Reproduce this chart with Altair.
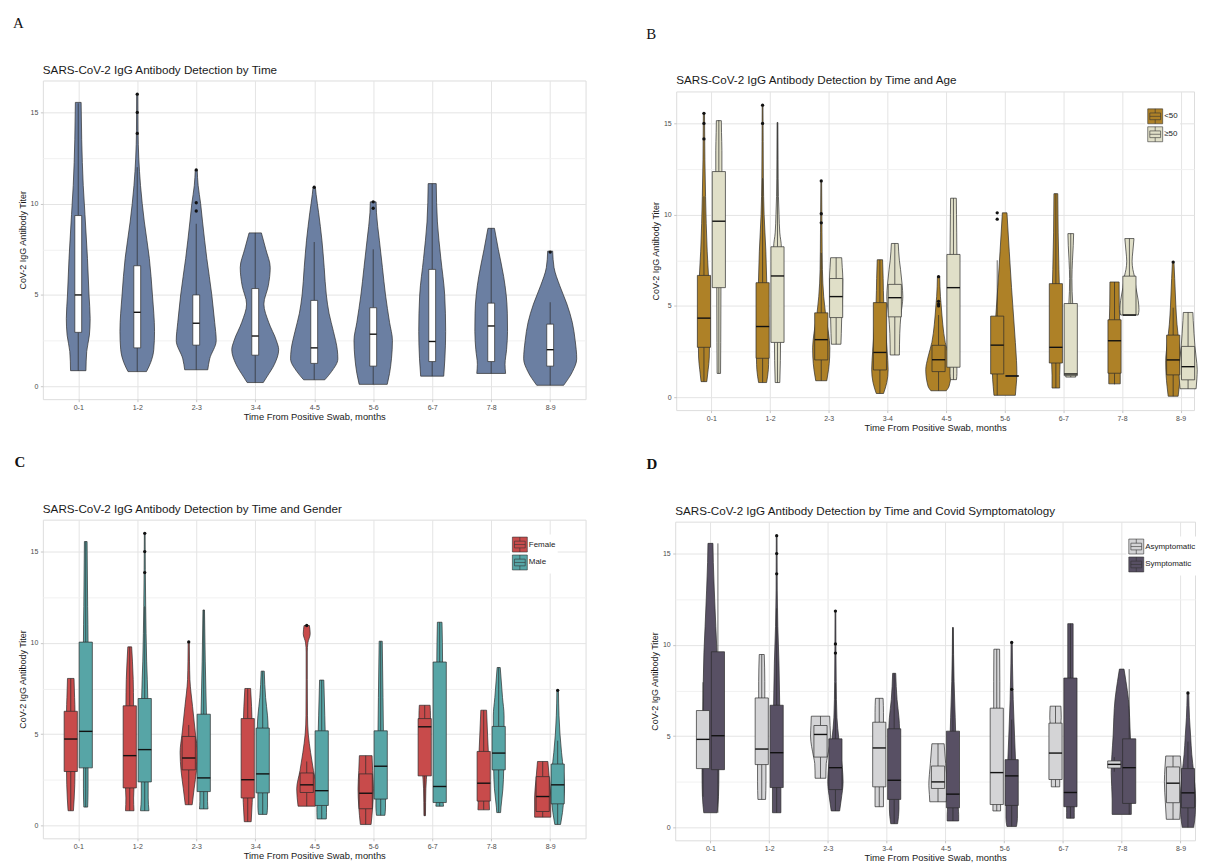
import altair as alt
import pandas as pd

CATS = ["0-1", "1-2", "2-3", "3-4", "4-5", "5-6", "6-7", "7-8", "8-9"]
X_TITLE = "Time From Positive Swab, months"
Y_TITLE = "CoV-2 IgG Antibody Titer"

# ---------------- Panel A ----------------
A_TITLE = "SARS-CoV-2 IgG Antibody Detection by Time"
A_GROUPS = ["All"]
A_COLORS = ["#6b7fa2"]
A_VIOLIN = {"All": [
    [[0.85, 40], [1.9, 44], [2.8, 58], [3.7, 62], [5.0, 56], [7.0, 48], [9.4, 35], [11.0, 26], [13.5, 18], [15.55, 15]],
    [[0.8, 48], [1.3, 70], [2.0, 86], [3.0, 90], [5.0, 79], [7.0, 63], [9.0, 37], [11.0, 17], [12.5, 8], [14.0, 4], [16.0, 3]],
    [[0.9, 60], [1.5, 70], [2.5, 104], [3.5, 96], [5.0, 81], [7.0, 55], [9.0, 33], [10.0, 23], [11.0, 10], [11.85, 5]],
    [[0.2, 42], [0.5, 60], [1.2, 100], [2.0, 122], [2.5, 110], [3.5, 70], [4.5, 45], [5.5, 68], [6.5, 78], [7.5, 55], [8.4, 32]],
    [[0.35, 55], [0.8, 90], [1.5, 123], [2.0, 120], [3.0, 100], [4.0, 77], [5.0, 63], [6.5, 52], [8.0, 40], [9.5, 23], [10.5, 10], [10.9, 6]],
    [[0.1, 73], [0.7, 85], [1.5, 95], [2.5, 100], [3.5, 85], [5.0, 64], [6.5, 48], [8.0, 32], [9.5, 17], [10.1, 15]],
    [[0.55, 60], [1.5, 66], [3.0, 70], [5.0, 65], [7.0, 45], [9.0, 27], [11.1, 21]],
    [[0.7, 75], [1.2, 72], [2.0, 80], [3.0, 85], [4.0, 84], [5.0, 78], [6.0, 65], [7.5, 37], [8.65, 17]],
    [[0.05, 70], [0.8, 116], [1.5, 138], [2.5, 130], [3.5, 115], [4.5, 87], [5.5, 50], [6.5, 20], [7.4, 13]],
]}
A_Q1 = {"All": [2.95, 2.1, 2.25, 1.7, 1.25, 1.1, 1.35, 1.35, 1.1]}
A_MED = {"All": [5.0, 4.05, 3.45, 2.75, 2.1, 2.85, 2.45, 3.3, 2.0]}
A_Q3 = {"All": [9.35, 6.6, 5.0, 5.35, 4.7, 4.3, 6.4, 4.55, 3.4]}
A_LO = {"All": [0.85, 0.8, 0.9, 0.2, 0.35, 0.1, 0.55, 0.7, 0.05]}
A_HI = {"All": [15.5, 12.0, 8.9, 8.4, 7.9, 7.5, 11.1, 8.65, 4.6]}
A_OUT = {"All": [[2, 16.0], [2, 15.0], [2, 13.85], [3, 11.85], [3, 10.05], [3, 9.6],
                 [5, 10.9], [6, 10.1], [6, 9.75], [9, 7.35]]}

# ---------------- Panel B ----------------
B_TITLE = "SARS-CoV-2 IgG Antibody Detection by Time and Age"
B_GROUPS = ["<50", "≥50"]
B_COLORS = ["#ae8127", "#e0dfc8"]
B_VIOLIN = {
    "<50": [
        [[0.85, 15], [1.5, 22], [2.2, 28], [4.0, 30], [6.6, 24], [8.0, 17], [9.5, 12], [11.0, 8.5], [13.0, 5], [15.55, 3]],
        [[0.8, 21], [1.5, 30], [2.1, 32], [4.0, 32], [6.2, 22], [8.0, 17], [10.0, 8], [12.0, 4], [14.0, 3], [16.0, 2]],
        [[0.9, 29], [1.5, 38], [2.2, 44], [2.7, 45], [3.5, 38], [4.6, 22], [5.5, 13], [7.0, 6], [9.0, 4], [11.85, 2]],
        [[0.2, 19], [0.8, 36], [1.5, 43], [2.5, 38], [4.0, 28], [5.2, 20], [6.5, 17], [7.53, 14]],
        [[0.35, 40], [0.6, 55], [1.5, 67], [2.2, 55], [3.0, 35], [4.0, 22], [5.0, 14], [5.5, 10], [6.6, 6]],
        [[0.1, 56], [0.6, 60], [1.3, 64], [2.0, 62], [3.0, 56], [4.5, 46], [6.0, 36], [8.0, 24], [10.1, 12]],
        [[0.5, 20], [1.2, 20], [1.87, 22], [6.2, 18], [7.0, 16], [9.0, 12], [11.15, 10]],
        [[0.73, 30], [1.3, 30], [4.2, 27], [5.0, 25], [6.31, 24]],
        [[0.05, 26], [0.6, 32], [1.2, 37], [2.0, 39], [3.0, 30], [4.0, 20], [5.0, 14], [6.5, 8], [7.4, 4]],
    ],
    "≥50": [
        [[1.3, 9], [3.0, 10], [6.0, 11], [12.4, 16], [13.5, 16], [14.5, 14], [15.15, 13]],
        [[0.8, 12], [2.0, 15], [3.0, 16], [8.24, 20], [9.0, 12], [10.0, 8], [11.0, 5], [13.0, 3], [15.05, 2]],
        [[2.9, 25], [3.5, 27], [4.36, 29], [5.5, 34], [6.5, 35], [7.1, 32], [7.64, 29]],
        [[2.31, 24], [3.5, 26], [4.5, 32], [5.5, 42], [6.2, 38], [7.0, 30], [7.5, 24], [8.42, 18]],
        [[0.96, 16], [1.3, 18], [1.64, 18], [7.82, 18], [9.0, 17], [10.0, 16], [10.9, 15]],
        None,
        [[1.1, 26], [1.5, 24], [3.0, 18], [5.13, 10], [5.8, 7], [6.5, 6], [7.5, 9], [8.3, 13], [8.96, 15]],
        [[4.5, 46], [4.8, 50], [5.3, 46], [6.0, 34], [6.63, 26], [7.0, 18], [7.45, 14], [8.0, 18], [8.69, 24]],
        [[0.46, 42], [1.0, 46], [1.5, 48], [2.2, 42], [2.78, 36], [3.5, 31], [4.2, 27], [4.64, 25]],
    ],
}
B_Q1 = {"<50": [2.73, 2.13, 2.04, 1.49, 1.4, 1.27, 1.87, 1.31, 1.22],
        "≥50": [6.0, 3.0, 4.36, 4.4, 1.64, 1.16, 1.18, 4.5, 0.95]}
B_MED = {"<50": [4.33, 3.87, 3.15, 2.45, 2.05, 2.85, 2.73, 3.09, 2.04],
         "≥50": [9.64, 6.64, 5.51, 5.45, 6.0, 1.16, 1.27, 4.5, 1.67]}
B_Q3 = {"<50": [6.67, 6.27, 4.62, 5.18, 2.84, 4.44, 6.22, 4.24, 3.4],
        "≥50": [12.36, 8.24, 6.5, 6.18, 7.82, 1.16, 5.13, 6.63, 2.78]}
B_LO = {"<50": [0.85, 0.8, 0.9, 0.2, 0.35, 0.1, 0.5, 0.7, 0.05],
        "≥50": [1.3, 0.8, 2.9, 2.31, 0.96, 1.16, 1.1, 4.5, 0.46]}
B_HI = {"<50": [11.0, 12.0, 7.9, 7.53, 4.5, 7.5, 11.15, 6.31, 4.9],
        "≥50": [15.18, 15.05, 7.64, 8.42, 10.9, 1.16, 8.96, 8.69, 4.64]}
B_OUT = {"<50": [[1, 15.55], [1, 15.0], [1, 14.15], [2, 16.0], [2, 15.0], [3, 11.85], [3, 10.05], [3, 9.55],
                 [5, 6.6], [5, 5.25], [5, 5.1], [5, 5.0], [6, 10.1], [6, 9.75], [9, 7.4]],
         "≥50": []}

# ---------------- Panel C ----------------
C_TITLE = "SARS-CoV-2 IgG Antibody Detection by Time and Gender"
C_GROUPS = ["Female", "Male"]
C_COLORS = ["#c84b4b", "#57a5a6"]
C_VIOLIN = {
    "Female": [
        [[0.8, 14], [1.5, 18], [2.95, 22], [6.25, 22], [7.0, 20], [8.05, 17]],
        [[0.8, 22], [1.5, 20], [2.05, 22], [6.55, 20], [8.0, 18], [9.0, 14], [9.78, 10]],
        [[1.13, 18], [2.0, 28], [3.0, 40], [4.0, 45], [5.0, 35], [6.5, 20], [8.0, 6], [9.0, 4], [10.05, 3]],
        [[0.2, 18], [1.0, 22], [1.5, 24], [5.85, 22], [6.5, 20], [7.5, 15]],
        [[1.05, 45], [2.0, 52], [3.0, 35], [4.0, 20], [5.0, 8], [6.0, 4], [8.0, 3], [9.5, 3], [10.0, 6], [10.5, 18], [10.95, 14]],
        [[0.05, 28], [1.0, 36], [2.0, 40], [3.0, 36], [3.82, 33]],
        [[0.53, 4], [2.0, 6], [3.0, 12], [5.0, 28], [6.0, 30], [6.58, 28]],
        [[0.85, 30], [1.5, 28], [4.05, 24], [5.0, 20], [6.31, 15]],
        [[0.45, 42], [1.5, 42], [2.5, 35], [3.5, 27]],
    ],
    "Male": [
        [[1.0, 10], [2.0, 12], [3.15, 12], [10.04, 12], [12.0, 10], [15.55, 7]],
        [[0.8, 22], [1.5, 18], [2.38, 18], [6.95, 16], [9.0, 10], [12.0, 5], [14.0, 3], [16.0, 2]],
        [[0.9, 22], [1.3, 20], [1.85, 20], [6.09, 14], [9.0, 8], [11.8, 4]],
        [[0.6, 22], [1.0, 25], [1.78, 25], [5.33, 28], [6.0, 25], [7.0, 15], [8.45, 8]],
        [[0.35, 24], [0.7, 25], [1.09, 25], [5.18, 18], [6.0, 16], [7.96, 11]],
        [[0.55, 22], [1.0, 25], [1.44, 25], [5.18, 14], [7.0, 12], [10.09, 8]],
        [[1.05, 20], [1.25, 18], [8.95, 15], [10.0, 14], [11.13, 12]],
        [[0.7, 10], [1.0, 12], [2.0, 22], [3.04, 26], [5.42, 28], [6.0, 28], [7.0, 20], [8.65, 8]],
        [[0.05, 15], [0.7, 25], [1.5, 32], [2.0, 35], [3.0, 30], [4.0, 20], [5.0, 12], [6.0, 7], [7.4, 4]],
    ],
}
C_Q1 = {"Female": [2.95, 2.05, 3.04, 1.5, 1.8, 0.91, 2.71, 1.33, 0.76],
        "Male": [3.15, 2.38, 1.85, 1.78, 1.09, 1.44, 1.25, 3.04, 1.18]}
C_MED = {"Female": [4.73, 3.82, 3.69, 2.5, 2.22, 1.76, 5.4, 2.31, 1.58],
         "Male": [5.15, 4.15, 2.6, 2.82, 1.9, 3.24, 2.13, 3.96, 2.22]}
C_Q3 = {"Female": [6.25, 6.55, 4.87, 5.85, 2.87, 2.82, 5.85, 4.05, 2.67],
        "Male": [10.04, 6.95, 6.09, 5.33, 5.18, 5.18, 8.95, 5.42, 3.36]}
C_LO = {"Female": [0.8, 0.8, 1.13, 0.2, 1.05, 0.05, 0.53, 0.85, 0.45],
        "Male": [1.0, 0.8, 0.9, 0.6, 0.35, 0.55, 1.05, 0.7, 0.05]}
C_HI = {"Female": [8.05, 9.78, 5.5, 7.5, 3.5, 3.82, 6.58, 6.31, 3.5],
        "Male": [15.55, 12.0, 11.8, 8.45, 7.96, 10.09, 11.13, 8.65, 4.64]}
C_OUT = {"Female": [[3, 10.05], [5, 10.95]],
         "Male": [[2, 16.0], [2, 15.0], [2, 13.85], [9, 7.4]]}

# ---------------- Panel D ----------------
D_TITLE = "SARS-CoV-2 IgG Antibody Detection by Time and Covid Symptomatology"
D_GROUPS = ["Asymptomatic", "Symptomatic"]
D_COLORS = ["#d4d4d6", "#585064"]
D_VIOLIN = {
    "Asymptomatic": [
        None,
        [[1.53, 20], [2.5, 22], [3.44, 22], [7.09, 16], [8.0, 16], [9.47, 13]],
        [[2.69, 28], [3.5, 30], [3.85, 36], [5.0, 52], [5.58, 50], [6.09, 48]],
        [[1.13, 22], [1.5, 22], [2.22, 22], [5.76, 22], [6.3, 22], [7.07, 20]],
        [[1.4, 43], [1.8, 45], [2.3, 48], [3.5, 40], [4.58, 32]],
        [[0.9, 20], [1.25, 20], [6.53, 16], [8.0, 16], [9.76, 15]],
        [[2.22, 22], [2.62, 22], [5.71, 28], [6.0, 30], [6.64, 28]],
        None,
        [[0.44, 35], [1.35, 40], [2.5, 45], [3.3, 42], [3.91, 38]],
    ],
    "Symptomatic": [
        [[0.8, 35], [1.7, 42], [3.0, 44], [6.0, 40], [9.6, 34], [11.0, 28], [13.0, 20], [14.5, 15], [15.56, 13]],
        [[0.8, 22], [1.5, 22], [2.18, 22], [6.69, 16], [9.0, 12], [11.0, 6], [13.0, 3], [15.98, 2]],
        [[0.9, 22], [1.5, 30], [2.5, 40], [3.27, 36], [4.85, 18], [6.0, 8], [8.0, 4], [11.85, 2]],
        [[0.2, 18], [1.0, 25], [1.53, 25], [5.4, 28], [6.0, 25], [7.0, 15], [8.44, 8]],
        [[0.35, 30], [0.7, 30], [1.07, 28], [5.27, 14], [6.0, 12], [8.0, 6], [10.95, 2]],
        [[0.05, 25], [0.5, 30], [1.2, 30], [3.71, 20], [5.0, 15], [7.0, 8], [9.0, 4], [10.13, 3]],
        [[0.5, 20], [0.8, 20], [1.13, 20], [8.18, 14], [9.5, 14], [11.16, 14]],
        [[0.71, 50], [1.5, 50], [3.0, 55], [5.0, 45], [7.0, 35], [8.0, 22], [8.67, 12]],
        [[0.0, 30], [0.7, 38], [1.5, 40], [3.0, 30], [4.0, 20], [5.0, 14], [6.0, 8], [7.36, 4]],
    ],
}
D_Q1 = {"Asymptomatic": [3.22, 3.44, 3.85, 2.22, 2.13, 1.25, 2.62, 3.25, 1.35],
        "Symptomatic": [3.16, 2.18, 2.07, 1.53, 1.07, 1.2, 1.13, 1.31, 1.07]}
D_MED = {"Asymptomatic": [4.82, 4.29, 5.09, 4.35, 2.49, 3.0, 4.07, 3.45, 2.42],
         "Symptomatic": [5.02, 4.09, 3.27, 2.58, 1.82, 2.82, 1.91, 3.27, 1.89]}
D_Q3 = {"Asymptomatic": [6.4, 7.09, 5.58, 5.76, 3.36, 6.53, 5.71, 3.64, 3.31],
        "Symptomatic": [9.62, 6.69, 4.85, 5.4, 5.27, 3.71, 8.18, 4.85, 3.22]}
D_LO = {"Asymptomatic": [1.67, 1.53, 2.69, 1.13, 1.4, 0.9, 2.22, 3.05, 0.44],
        "Symptomatic": [0.8, 0.8, 0.9, 0.2, 0.35, 0.05, 0.5, 0.71, 0.0]}
D_HI = {"Asymptomatic": [7.95, 9.47, 6.09, 7.07, 4.58, 9.76, 6.64, 3.85, 3.91],
        "Symptomatic": [15.56, 12.0, 7.9, 8.44, 10.95, 5.9, 11.16, 8.67, 4.7]}
D_OUT = {"Asymptomatic": [],
         "Symptomatic": [[2, 15.98], [2, 15.0], [2, 13.89], [3, 11.85], [3, 10.05], [3, 9.55],
                         [6, 10.13], [6, 7.56], [9, 7.36]]}

# ---------------- styling constants ----------------
DODGE = 0.127
BOX_HALF = 0.112
BOX_HALF_SINGLE = 0.058
WSCALE = 1 / 306.8
Y_DOMAIN = [-0.71, 16.75]
PLOT_H = 320
OUTLINE = "#2b2b2b"
FONT = "Liberation Sans"
XLABEL_EXPR = "[" + ",".join("'%s'" % c for c in CATS) + "][datum.value - 1]"
KEY_PATH = ("M-1,-1H1V1H-1Z M-0.72,-0.45H0.72V0.45H-0.72Z M-0.72,0H0.72 "
            "M0,-1V-0.45 M0,0.45V1")


def make_axes():
    xaxis = alt.Axis(values=list(range(1, 10)), labelExpr=XLABEL_EXPR, title=X_TITLE,
                     grid=True, gridColor="#e4e4e4", gridWidth=1, domain=False,
                     tickSize=2.5, tickColor="#b0b0b0", tickWidth=0.7,
                     labelFontSize=7, labelColor="#4d4d4d", labelPadding=2, labelFont=FONT,
                     titleFontSize=9.4, titleFontWeight="normal", titleColor="#1a1a1a",
                     titlePadding=2, titleFont=FONT)
    yaxis = alt.Axis(values=[0, 2.5, 5, 7.5, 10, 12.5, 15],
                     labelExpr="datum.value % 5 == 0 ? datum.label : ''", title=Y_TITLE,
                     grid=True,
                     gridColor={"condition": {"test": "datum.value % 5 == 0", "value": "#e4e4e4"},
                                "value": "#f1f1f1"},
                     gridWidth=1, domain=False, tickSize=2.5,
                     tickColor={"condition": {"test": "datum.value % 5 == 0", "value": "#b0b0b0"},
                                "value": "transparent"},
                     tickWidth=0.7, labelFontSize=7, labelColor="#4d4d4d", labelPadding=2.5,
                     labelFont=FONT, titleFontSize=9, titleFontWeight="normal",
                     titleColor="#1a1a1a", titlePadding=3, titleFont=FONT)
    return xaxis, yaxis


def panel(letter, title, groups, colors, violins, q1, med, q3, lo, hi, outs,
          width, xmax, top_y, legend_xy=None, letter_dx=-24.5, bold=False):
    single = len(groups) == 1
    fld = "grp" + letter
    vrows, brows, orows = [], [], []
    for gi, g in enumerate(groups):
        boff = 0.0 if single else (-DODGE if gi == 0 else DODGE)
        for ci in range(9):
            prof = violins[g][ci]
            if prof is not None:
                if single:
                    off = 0.0
                else:
                    other = violins[groups[1 - gi]][ci]
                    off = 0.0 if other is None else boff
                for v, w in prof:
                    vrows.append({"vid": "%d-%d" % (gi, ci), fld: g, "cat": ci + 1, "off": off,
                                  "v": v, "w": w * WSCALE})
            brows.append({fld: g, "cat": ci + 1, "off": boff, "q1": q1[g][ci], "med": med[g][ci],
                          "q3": q3[g][ci], "lo": lo[g][ci], "hi": hi[g][ci]})
        for c, v in outs[g]:
            orows.append({fld: g, "cat": c, "off": boff, "v": v})

    xs = alt.Scale(domain=[0.4, xmax], nice=False, zero=False)
    ys = alt.Scale(domain=Y_DOMAIN, nice=False, zero=False)
    xaxis, yaxis = make_axes()
    bh = BOX_HALF_SINGLE if single else BOX_HALF

    if single:
        vfill = alt.value(colors[0])
        bfill = alt.value("white")
    else:
        leg = alt.Legend(orient="none", legendX=legend_xy[0], legendY=legend_xy[1], title=None,
                         direction="vertical", symbolType=KEY_PATH, symbolSize=225,
                         symbolStrokeColor="#333333", symbolStrokeWidth=0.6, symbolOpacity=1,
                         labelFontSize=8, labelFont=FONT, labelColor="#222222", labelOffset=1,
                         rowPadding=0, padding=2, fillColor="white")
        cscale = alt.Scale(domain=groups, range=colors)
        vfill = alt.Fill(fld + ":N", scale=cscale, legend=leg)
        bfill = alt.Fill(fld + ":N", scale=cscale, legend=leg)

    violin = alt.Chart(pd.DataFrame(vrows)).transform_calculate(
        x_lo="datum.cat + datum.off - datum.w", x_hi="datum.cat + datum.off + datum.w"
    ).mark_area(orient="horizontal", stroke=OUTLINE, strokeWidth=0.7, interpolate="monotone",
                opacity=1).encode(
        y=alt.Y("v:Q", scale=ys, axis=yaxis),
        x=alt.X("x_lo:Q", scale=xs, axis=xaxis),
        x2="x_hi:Q",
        fill=vfill,
        detail="vid:N",
    )

    base = alt.Chart(pd.DataFrame(brows)).transform_calculate(
        xc="datum.cat + datum.off",
        bx_lo="datum.cat + datum.off - %f" % bh,
        bx_hi="datum.cat + datum.off + %f" % bh,
    )
    wlo = base.mark_rule(color=OUTLINE, strokeWidth=0.7).encode(
        x=alt.X("xc:Q", scale=xs, axis=xaxis), y=alt.Y("lo:Q", scale=ys, axis=yaxis), y2="q1:Q")
    whi = base.mark_rule(color=OUTLINE, strokeWidth=0.7).encode(
        x=alt.X("xc:Q", scale=xs, axis=xaxis), y=alt.Y("q3:Q", scale=ys, axis=yaxis), y2="hi:Q")
    box = base.mark_rect(stroke=OUTLINE, strokeWidth=0.7, opacity=1).encode(
        x=alt.X("bx_lo:Q", scale=xs, axis=xaxis), x2="bx_hi:Q",
        y=alt.Y("q1:Q", scale=ys, axis=yaxis), y2="q3:Q", fill=bfill)
    medl = base.mark_rule(color="#111111", strokeWidth=1.4).encode(
        x=alt.X("bx_lo:Q", scale=xs, axis=xaxis), x2="bx_hi:Q",
        y=alt.Y("med:Q", scale=ys, axis=yaxis))
    pts = alt.Chart(pd.DataFrame(orows)).transform_calculate(
        xc="datum.cat + datum.off"
    ).mark_circle(size=11, color="#111111", opacity=1).encode(
        x=alt.X("xc:Q", scale=xs, axis=xaxis), y=alt.Y("v:Q", scale=ys, axis=yaxis))

    let = alt.Chart(pd.DataFrame({"t": [letter]})).mark_text(
        align="center", baseline="middle", font="Liberation Serif", fontSize=15,
        fontWeight="bold" if bold else "normal", color="#111111"
    ).encode(x=alt.value(letter_dx), y=alt.value(-58), text="t:N")
    ttl = alt.Chart(pd.DataFrame({"t": [title]})).mark_text(
        align="left", baseline="middle", font=FONT, fontSize=11.7, color="#1a1a1a"
    ).encode(x=alt.value(0), y=alt.value(-11), text="t:N")
    # tiny white rule fixing the top edge of this panel's layout bounds
    top = alt.Chart(pd.DataFrame({"t": [0]})).mark_rule(color="white", strokeWidth=1).encode(
        x=alt.value(0), x2=alt.value(2), y=alt.value(top_y))

    return alt.layer(violin, wlo, whi, box, medl, pts, let, ttl, top).properties(
        width=width, height=PLOT_H)


def spacer():
    return alt.Chart(pd.DataFrame({"t": [0]})).mark_rule(strokeWidth=0, opacity=0).encode(
        x=alt.value(0), x2=alt.value(1), y=alt.value(0)
    ).properties(width=1, height=1, view=alt.ViewBackground(stroke="transparent"))


pA = panel("A", A_TITLE, A_GROUPS, A_COLORS, A_VIOLIN, A_Q1, A_MED, A_Q3, A_LO, A_HI, A_OUT,
           width=545, xmax=9.6, top_y=-66.5, letter_dx=-24.5)
pB = panel("B", B_TITLE, B_GROUPS, B_COLORS, B_VIOLIN, B_Q1, B_MED, B_Q3, B_LO, B_HI, B_OUT,
           width=520, xmax=0.4 + 520 / 58.9, top_y=-77.8, legend_xy=(471, 15), letter_dx=-25)
pC = panel("C", C_TITLE, C_GROUPS, C_COLORS, C_VIOLIN, C_Q1, C_MED, C_Q3, C_LO, C_HI, C_OUT,
           width=545, xmax=9.6, top_y=-96.2, legend_xy=(469, 15), letter_dx=-23, bold=True)
pD = panel("D", D_TITLE, D_GROUPS, D_COLORS, D_VIOLIN, D_Q1, D_MED, D_Q3, D_LO, D_HI, D_OUT,
           width=522, xmax=0.4 + 522 / 59.0, top_y=-87.2, legend_xy=(453, 15), letter_dx=-23.5,
           bold=True)

chart = alt.concat(
    spacer(), spacer(), pA, pB, pC, pD,
    columns=2, align="none", bounds="full", spacing={"row": 0, "column": 59}
).resolve_scale(fill="independent").resolve_legend(fill="independent").properties(
    padding={"left": 4, "top": 0, "right": 0, "bottom": 0}
).configure_view(stroke="#c9c9c9", strokeWidth=1).configure(background="white")

chart.save("out.html", embed_options={"renderer": "svg", "actions": False})
